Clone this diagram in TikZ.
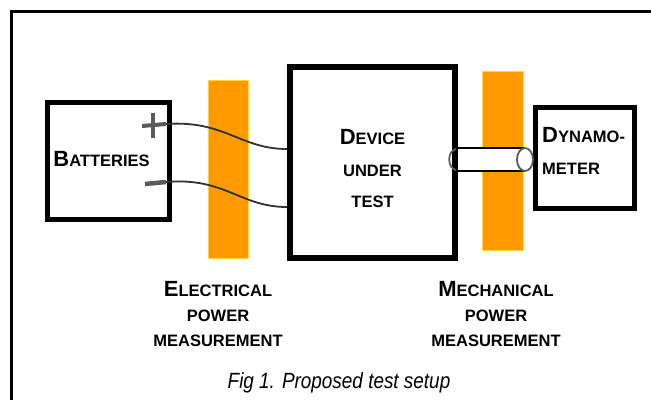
\documentclass[tikz,border=0pt]{standalone}
\usepackage{fontspec}
\setmainfont{Liberation Sans}
\newfontfamily\captfont[FakeStretch=0.86]{Liberation Sans}

\definecolor{barorange}{RGB}{255,155,0}
\definecolor{baredge}{RGB}{255,215,60}
\definecolor{wiregray}{RGB}{50,50,50}
\definecolor{termgray}{RGB}{90,90,90}

\newcommand{\bigini}[2]{{\fontsize{22}{22}\selectfont #1}#2}

\begin{document}
\begin{tikzpicture}[
    x=1pt, y=-1pt,
    box/.style={
        draw,
        fill=white,
        inner sep=0pt,
        line width=5pt
    },
    bar/.style={
        fill=barorange,
        draw=baredge,
        inner sep=0pt,
        line width=1pt
    },
    wire/.style={
        line width=1.8pt,
        draw=wiregray
    },
    term/.style={
        line width=4pt,
        draw=termgray
    },
    shaft/.style={
        line width=2.5pt
    },
    lbl/.style={
        inner sep=0pt,
        align=center,
        anchor=north,
        font=\bfseries\fontsize{16.5}{25}\selectfont
    },
    capt/.style={
        inner sep=0pt,
        anchor=base,
        font=\captfont\itshape\fontsize{22}{22}\selectfont
    }
]
\useasboundingbox (0,0) rectangle (651,400);

% frame
\draw[line width=3pt] (11,400) -- (11,11) -- (651,11);

% measurement bars
\node[bar, minimum width=40pt, minimum height=178pt] (elbar) at (228,169) {};
\node[bar, minimum width=41pt, minimum height=179pt] (mebar) at (502.5,160.5) {};

% boxes
\node[box, minimum width=122pt, minimum height=117pt] (bat) at (108.5,161) {};
\node[box, line width=6pt, minimum width=165pt, minimum height=191pt] (dut) at (372.5,162.5) {};
\node[box, minimum width=99pt, minimum height=101pt] (dyn) at (585,158) {};

% shaft
\coordinate (shtop) at (524,148);
\coordinate (shbot) at (524,171);
\fill[white] (dut.east |- shtop) rectangle (shbot);
\draw[shaft] (dut.east |- shtop) -- (shtop);
\draw[shaft] (dut.east |- shbot) -- (shbot);
\draw[termgray, line width=1.8pt] (456,149) .. controls (447,151) and (447,168) .. (456,170);
\draw[termgray, line width=1.8pt] (525,159.5) ellipse [x radius=8, y radius=11.5];

% terminals
\coordinate (batpos) at (166,124);
\coordinate (batneg) at (166,182);
\coordinate (dutpos) at (287,149);
\coordinate (dutneg) at (287,207);
\draw[term] (142,126) -- (batpos);
\draw[term] (153,113) -- (153,138);
\draw[term, line width=4.5pt] (145,184) -- (batneg);

% wires
\draw[wire] (batpos) .. controls (225,120) and (240,149) .. (dutpos);
\draw[wire] (batneg) .. controls (225,177) and (240,207) .. (dutneg);

% labels
\node[lbl, anchor=base] (batlbl) at (101.5,166.5) {\bigini{B}{ATTERIES}};
\node[lbl, font=\bfseries\fontsize{16.5}{31.5}\selectfont] (dutlbl) at (372.5,129.2) {
    \bigini{D}{EVICE}\\
    UNDER\\
    TEST
};
\node[lbl, anchor=north west, align=left, font=\bfseries\fontsize{16.5}{32}\selectfont] (dynlbl) at (542,127.5) {
    \bigini{D}{YNAMO-}\\
    METER
};
\node[lbl] (ellbl) at (218,281) {
    \bigini{E}{LECTRICAL}\\
    POWER\\
    MEASUREMENT
};
\node[lbl] (melbl) at (496,281) {
    \bigini{M}{ECHANICAL}\\
    POWER\\
    MEASUREMENT
};

% caption
\node[capt] (cap) at (339,388) {Fig 1. Proposed test setup};

\end{tikzpicture}
\end{document}
